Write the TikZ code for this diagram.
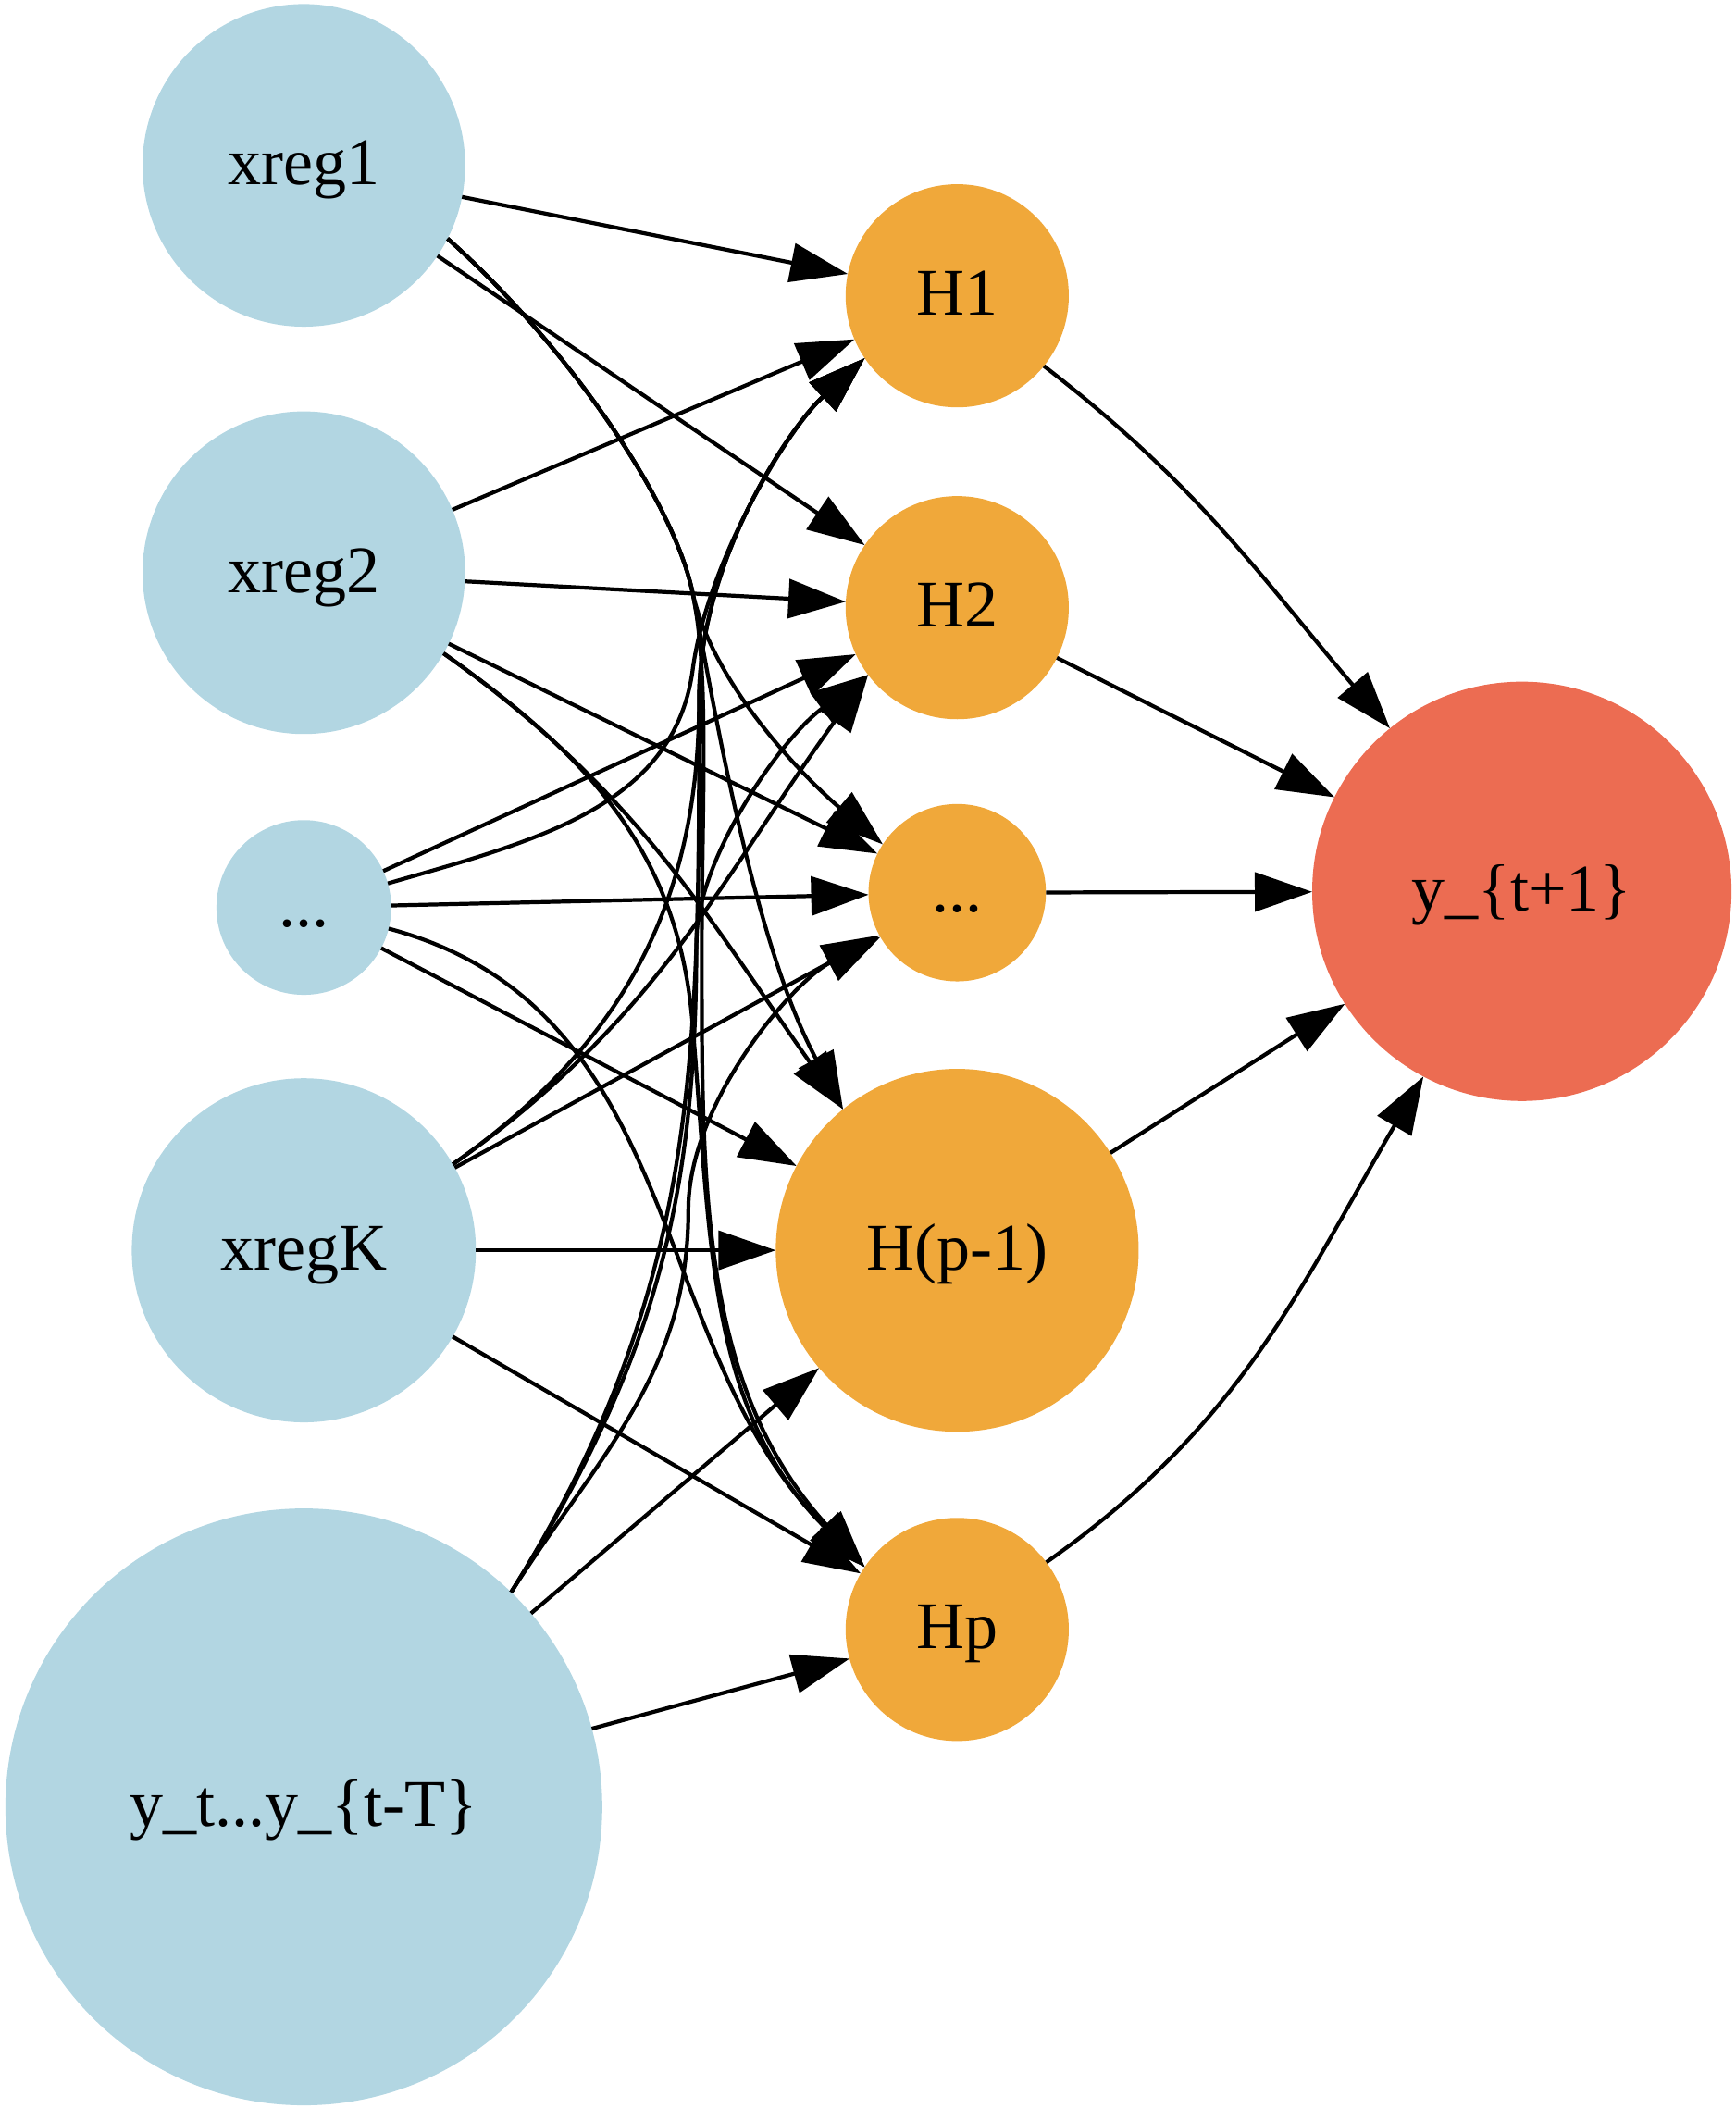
\documentclass[tikz,border=0pt]{standalone}
\usepackage{fontspec}
\setmainfont{Liberation Serif}
\usepackage{tikz}
\usetikzlibrary{arrows.meta}

\definecolor{inblue}{RGB}{178,214,226}
\definecolor{hidorange}{RGB}{240,168,58}
\definecolor{outred}{RGB}{236,108,82}

\begin{document}
\begin{tikzpicture}[x=0.014524cm, y=-0.014524cm,
    neuron/.style={circle, inner sep=0pt, outer sep=0pt, text height=16pt, text depth=4pt,
        font=\fontsize{20.5}{24}\selectfont},
    innode/.style={neuron, fill=inblue},
    hidnode/.style={neuron, fill=hidorange},
    outnode/.style={neuron, fill=outred},
    wire/.style={line width=1.2pt, -{Triangle[length=0.62cm, width=0.42cm]}}]
    \useasboundingbox (0,0) rectangle (1291,1568);

    % Input layer
    \node[innode, minimum size=3.486cm] (X1) at (226,123) {xreg1};
    \node[innode, minimum size=3.486cm] (X2) at (226,426) {xreg2};
    \node[innode, minimum size=1.888cm] (X3) at (226,675) {...};
    \node[innode, minimum size=3.718cm] (XK) at (226,930) {xregK};
    \node[innode, minimum size=6.449cm] (Y) at (226,1344) {y\_t...y\_\{t-T\}};

    % Hidden layer
    \node[hidnode, minimum size=2.411cm] (H1) at (712,220) {H1};
    \node[hidnode, minimum size=2.411cm] (H2) at (712,452) {H2};
    \node[hidnode, minimum size=1.917cm] (Hd) at (712,664) {...};
    \node[hidnode, minimum size=3.921cm] (Hpm) at (712,930) {H(p-1)};
    \node[hidnode, minimum size=2.411cm] (Hp) at (712,1212) {Hp};

    % Output
    \node[outnode, minimum size=4.531cm] (out) at (1132,663) {y\_\{t+1\}};

    % Straight input -> hidden
    \draw[wire] (X1) -- (H1);
    \draw[wire] (X1) -- (H2);
    \draw[wire] (X2) -- (H1);
    \draw[wire] (X2) -- (H2);
    \draw[wire] (X2) -- (Hd);
    \draw[wire] (X3) -- (H2);
    \draw[wire] (X3) -- (Hd);
    \draw[wire] (X3) -- (Hpm);
    \draw[wire] (XK) -- (Hd);
    \draw[wire] (XK) -- (Hpm);
    \draw[wire] (XK) -- (Hp);
    \draw[wire] (Y) -- (Hpm);
    \draw[wire] (Y) -- (Hp);

    % Curved input -> hidden, going down
    \draw[wire] (X1.-27) .. controls (420,255) and (500,370) .. (515,440)
        .. controls (530,510) and (600,580) .. (Hd.147);
    \draw[wire] (X1.-27) .. controls (420,255) and (500,370) .. (515,440)
        .. controls (530,520) and (560,700) .. (Hpm.129);
    \draw[wire] (X1.-27) .. controls (420,255) and (500,370) .. (515,440)
        .. controls (528,500) and (522,600) .. (522,700)
        .. controls (522,880) and (520,1030) .. (Hp.146);
    \draw[wire] (X2.-30) .. controls (474,588) and (526,682) .. (Hpm.129);
    \draw[wire] (X2.-30) .. controls (436,561) and (504,632) .. (515,760)
        .. controls (529,925) and (526,1048) .. (Hp.146);
    \draw[wire] (X3.-14) .. controls (512,750) and (479,1001) .. (Hp.146);

    % Curved input -> hidden, going up
    \draw[wire] (X3.16) .. controls (400,625) and (500,600) .. (515,500)
        .. controls (525,420) and (585,320) .. (H1.-146);
    \draw[wire] (XK.30) .. controls (462,778) and (520,673) .. (520,520)
        .. controls (520,420) and (585,320) .. (H1.-146);
    \draw[wire] (XK.30) .. controls (488,760) and (535,656) .. (H2.-143);
    \draw[wire] (Y.46) .. controls (521,959) and (520,785) .. (520,520)
        .. controls (520,420) and (585,320) .. (H1.-146);
    \draw[wire] (Y.46) .. controls (485,1017) and (518,897) .. (518,700)
        .. controls (518,640) and (580,550) .. (H2.-143);
    \draw[wire] (Y.46) .. controls (446,1081) and (512,1022) .. (512,900)
        .. controls (512,820) and (590,730) .. (Hd.-150);

    % Hidden -> output
    \draw[wire] (H1.-39) .. controls (893,362) and (940,432) .. (out.129);
    \draw[wire] (H2) -- (out);
    \draw[wire] (Hd) -- (out);
    \draw[wire] (Hpm) -- (out);
    \draw[wire] (Hp.37) .. controls (925,1059) and (968,955) .. (out.-118);
\end{tikzpicture}
\end{document}
